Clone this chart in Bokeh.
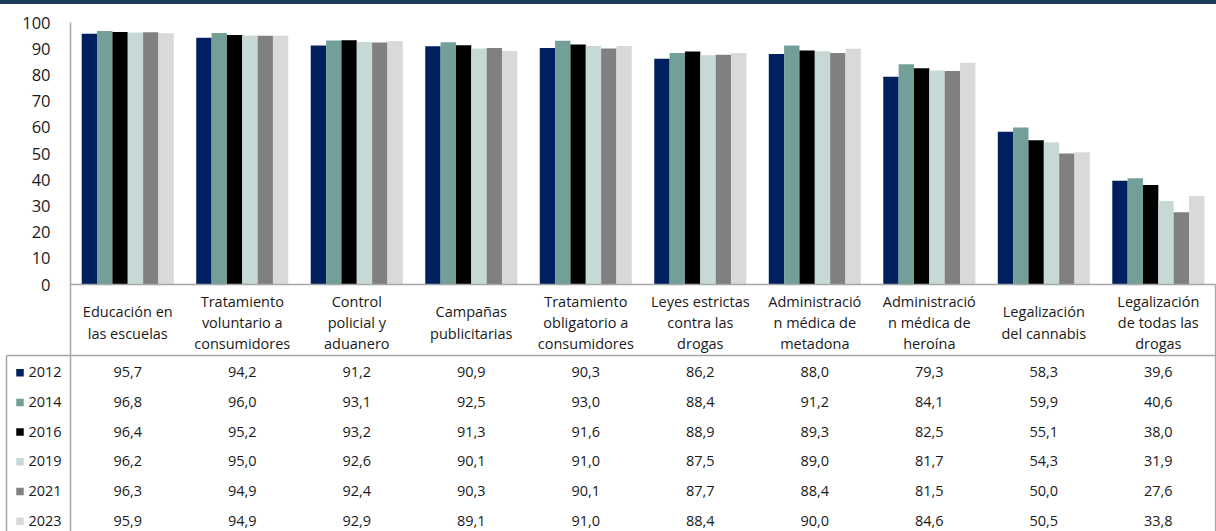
from bokeh.plotting import figure
from bokeh.models import Range1d, ColumnDataSource, Div
from bokeh.layouts import column
from bokeh.transform import dodge
from bokeh.core.properties import value
from bokeh.embed import file_html
from bokeh.resources import INLINE

# ---------------- data ----------------
categories = [
    "Educación en\nlas escuelas",
    "Tratamiento\nvoluntario a\nconsumidores",
    "Control\npolicial y\naduanero",
    "Campañas\npublicitarias",
    "Tratamiento\nobligatorio a\nconsumidores",
    "Leyes estrictas\ncontra las\ndrogas",
    "Administració\nn médica de\nmetadona",
    "Administració\nn médica de\nheroína",
    "Legalización\ndel cannabis",
    "Legalización\nde todas las\ndrogas",
]
years = ["2012", "2014", "2016", "2019", "2021", "2023"]
colors = ["#002060", "#739f99", "#000000", "#c6d9d6", "#808080", "#d9d9d9"]

v2012 = [95.7, 94.2, 91.2, 90.9, 90.3, 86.2, 88.0, 79.3, 58.3, 39.6]
v2014 = [96.8, 96.0, 93.1, 92.5, 93.0, 88.4, 91.2, 84.1, 59.9, 40.6]
v2016 = [96.4, 95.2, 93.2, 91.3, 91.6, 88.9, 89.3, 82.5, 55.1, 38.0]
v2019 = [96.2, 95.0, 92.6, 90.1, 91.0, 87.5, 89.0, 81.7, 54.3, 31.9]
v2021 = [96.3, 94.9, 92.4, 90.3, 90.1, 87.7, 88.4, 81.5, 50.0, 27.6]
v2023 = [95.9, 94.9, 92.9, 89.1, 91.0, 88.4, 90.0, 84.6, 50.5, 33.8]
series = [v2012, v2014, v2016, v2019, v2021, v2023]
y_ticks = [0, 10, 20, 30, 40, 50, 60, 70, 80, 90, 100]

# ---------------- layout constants ----------------
FONT = "Open Sans"
TXT = "#1a1a1a"
LINE = "#a6a6a6"
W = 1216
H = 527
LEFT = 70                      # px from page left to the value axis
XMAX = 10.008
u = (W - LEFT) / XMAX          # px per category unit
XMIN = -LEFT / u
PX = 2.62                      # px per percent
TOP = 18                       # px above the 100 line
YMAX = 100 + TOP / PX
YMIN = 100 - (H - TOP) / PX
HEADER_H = 71                  # category row height (px below zero line)
ROW_H = 29.7
ROW0 = 87.7
LABEL_Y = 38
BW = 0.134                     # bar width in category units


def below(px):
    """data y for a distance in px below the zero line"""
    return -px / PX


def right_of_edge(px):
    """data x for a distance in px from the page's left edge"""
    return XMIN + px / u


n = len(categories)
xc = [i + 0.5 for i in range(n)]

p = figure(width=W, height=H, x_range=Range1d(XMIN, XMAX),
           y_range=Range1d(YMIN, YMAX), x_axis_type=None, y_axis_type=None,
           output_backend="svg", toolbar_location=None,
           min_border_left=0, min_border_right=0,
           min_border_top=0, min_border_bottom=0,
           outline_line_color=None)
p.grid.visible = False

# bars
src = ColumnDataSource({"xc": xc, **{f"y{j}": s for j, s in enumerate(series)}})
for j, col in enumerate(colors):
    p.vbar(x=dodge("xc", (j - 2.5) * BW), top=f"y{j}", bottom=0, width=BW,
           source=src, fill_color=col, line_color=None)

# value axis labels
p.text(x=[right_of_edge(50)] * len(y_ticks), y=y_ticks, text=[str(t) for t in y_ticks],
       text_align="right", text_baseline="middle", text_font=value(FONT),
       text_font_size="16.5px", text_color=TXT)

# axis + table lines
xl = right_of_edge(6)
p.segment(x0=[0, 0, 10, xl, xl],
          y0=[100, 0, 0, below(HEADER_H), below(HEADER_H)],
          x1=[0, 10, 10, 10, xl],
          y1=[YMIN, 0, YMIN, below(HEADER_H), YMIN],
          line_color=LINE, line_width=1.5)

# category labels
p.text(x=xc, y=[below(LABEL_Y)] * n, text=categories, text_align="center",
       text_baseline="middle", text_font=value(FONT), text_font_size="14.5px",
       text_line_height=1.12, text_color=TXT)

# table values
ry = [below(ROW0 + ROW_H * j) for j in range(len(years))]
tx, ty, tt = [], [], []
for j, s in enumerate(series):
    for i, v in enumerate(s):
        tx.append(xc[i])
        ty.append(ry[j])
        tt.append(f"{v:.1f}".replace(".", ","))
p.text(x=tx, y=ty, text=tt, text_align="center", text_baseline="middle",
       text_font=value(FONT), text_font_size="14.5px", text_color=TXT)

# series key in the table's first column
p.scatter(x=[right_of_edge(19.5)] * len(years), y=[r + below(0.5) for r in ry],
          marker="square", size=7.5, fill_color=colors, line_color=None)
p.text(x=[right_of_edge(28)] * len(years), y=ry, text=years, text_align="left",
       text_baseline="middle", text_font=value(FONT), text_font_size="14.5px",
       text_color=TXT)

band = Div(text="", width=W, height=4, margin=(0, 0, 0, 0),
           styles={"background-color": "#1b3a57"})

layout = column(band, p, spacing=0)
open("out.html", "w").write(file_html(layout, INLINE))
